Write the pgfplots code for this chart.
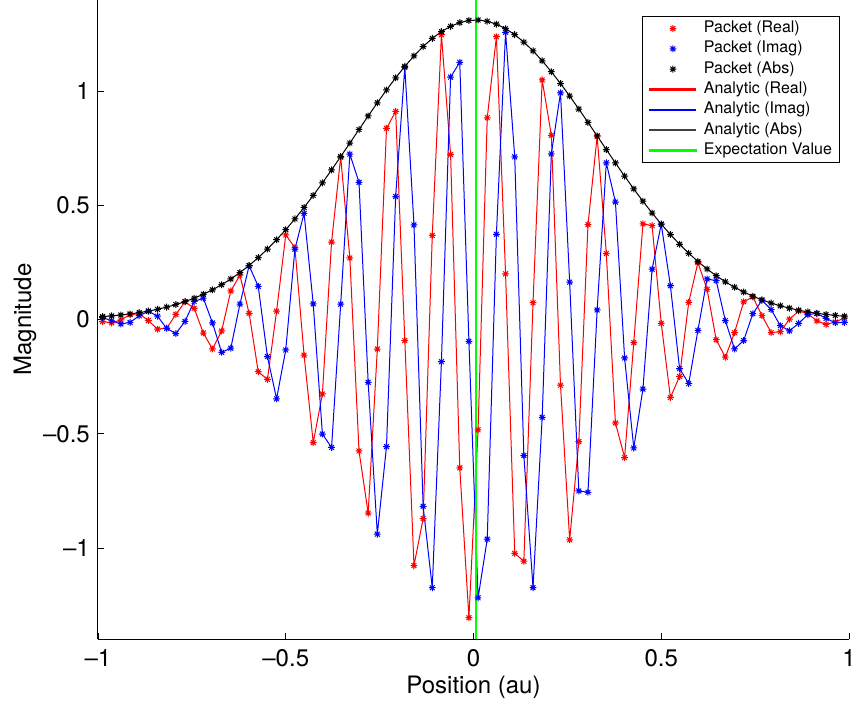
\documentclass[border=0pt]{standalone}
\usepackage{fontspec}
\setmainfont{TeX Gyre Heros}
\usepackage{pgfplots}
\usepackage{pgfplotstable}
\pgfplotsset{compat=1.18}

\pgfdeclareplotmark{mstar}{%
 \pgfpathmoveto{\pgfqpoint{-\pgfplotmarksize}{0pt}}\pgfpathlineto{\pgfqpoint{\pgfplotmarksize}{0pt}}%
 \pgfpathmoveto{\pgfqpoint{0pt}{-\pgfplotmarksize}}\pgfpathlineto{\pgfqpoint{0pt}{\pgfplotmarksize}}%
 \pgfpathmoveto{\pgfqpoint{-.7071\pgfplotmarksize}{-.7071\pgfplotmarksize}}\pgfpathlineto{\pgfqpoint{.7071\pgfplotmarksize}{.7071\pgfplotmarksize}}%
 \pgfpathmoveto{\pgfqpoint{-.7071\pgfplotmarksize}{.7071\pgfplotmarksize}}\pgfpathlineto{\pgfqpoint{.7071\pgfplotmarksize}{-.7071\pgfplotmarksize}}%
 \pgfusepathqstroke}

\pgfplotstableread{
x re im ab
-0.9878 -0.0091 0.0088 0.0126
-0.9634 -0.0148 -0.0056 0.0158
-0.9390 -0.0019 -0.0196 0.0197
-0.9146 0.0209 -0.0127 0.0244
-0.8902 0.0252 0.0164 0.0300
-0.8659 -0.0046 0.0365 0.0368
-0.8415 -0.0423 0.0142 0.0447
-0.8171 -0.0379 -0.0387 0.0542
-0.7927 0.0221 -0.0615 0.0653
-0.7683 0.0777 -0.0082 0.0782
-0.7439 0.0491 0.0791 0.0932
-0.7195 -0.0591 0.0932 0.1103
-0.6951 -0.1290 -0.0149 0.1298
-0.6707 -0.0501 -0.1437 0.1521
-0.6463 0.1252 -0.1253 0.1772
-0.6220 0.1938 0.0674 0.2052
-0.5976 0.0272 0.2347 0.2362
-0.5732 -0.2284 0.1450 0.2706
-0.5488 -0.2619 -0.1623 0.3081
-0.5244 0.0363 -0.3470 0.3490
-0.5000 0.3697 -0.1333 0.3929
-0.4756 0.3146 0.3078 0.4401
-0.4512 -0.1562 0.4646 0.4901
-0.4268 -0.5385 0.0682 0.5427
-0.4024 -0.3258 -0.5010 0.5976
-0.3780 0.3390 -0.5599 0.6545
-0.3537 0.7096 0.0668 0.7128
-0.3293 0.2693 0.7234 0.7718
-0.3049 -0.5752 0.6002 0.8313
-0.2805 -0.8468 -0.2747 0.8903
-0.2561 -0.1291 -0.9392 0.9481
-0.2317 0.8361 -0.5561 1.0041
-0.2073 0.9103 0.5379 1.0573
-0.1829 -0.0923 1.1034 1.1073
-0.1585 -1.0764 0.4136 1.1531
-0.1341 -0.8710 -0.8171 1.1943
-0.1098 0.3678 -1.1736 1.2298
-0.0854 1.2458 -0.1846 1.2594
-0.0610 0.7215 1.0603 1.2825
-0.0366 -0.6489 1.1253 1.2989
-0.0122 -1.3047 -0.0952 1.3082
0.0122 -0.4827 -1.2178 1.3100
0.0366 0.8826 -0.9608 1.3047
0.0610 1.2371 0.3729 1.2921
0.0854 0.1997 1.2566 1.2724
0.1098 -1.0230 0.7118 1.2462
0.1341 -1.0575 -0.5952 1.2135
0.1585 0.0733 -1.1730 1.1753
0.1829 1.0478 -0.4281 1.1319
0.2073 0.8059 0.7249 1.0839
0.2317 -0.2876 0.9915 1.0324
0.2561 -0.9639 0.1635 0.9777
0.2805 -0.5339 -0.7501 0.9207
0.3049 0.4150 -0.7559 0.8623
0.3293 0.8019 0.0417 0.8030
0.3537 0.2885 0.6854 0.7436
0.3780 -0.4526 0.5140 0.6849
0.4024 -0.6041 -0.1684 0.6272
0.4268 -0.1014 -0.5621 0.5713
0.4512 0.4184 -0.3042 0.5174
0.4756 0.4107 0.2200 0.4659
0.5000 -0.0173 0.4169 0.4173
0.5244 -0.3410 0.1478 0.3717
0.5488 -0.2492 -0.2149 0.3291
0.5732 0.0750 -0.2800 0.2898
0.5976 0.2492 -0.0477 0.2538
0.6220 0.1318 0.1775 0.2210
0.6463 -0.0886 0.1697 0.1915
0.6707 -0.1648 -0.0051 0.1649
0.6951 -0.0575 -0.1290 0.1412
0.7195 0.0776 -0.0919 0.1203
0.7439 0.0986 0.0253 0.1018
0.7683 0.0171 0.0841 0.0858
0.7927 -0.0572 0.0435 0.0719
0.8171 -0.0533 -0.0271 0.0598
0.8415 0.0011 -0.0495 0.0495
0.8659 0.0371 -0.0170 0.0408
0.8902 0.0257 0.0213 0.0334
0.9146 -0.0064 0.0265 0.0272
0.9390 -0.0215 0.0046 0.0221
0.9634 -0.0109 -0.0141 0.0178
0.9878 0.0064 -0.0127 0.0142
}\packet

\begin{document}
\begin{tikzpicture}
\useasboundingbox (-98pt,-66.5pt) rectangle (757pt,639.5pt);
\begin{axis}[
  at={(0pt,0pt)}, anchor=south west,
  scale only axis, width=751pt, height=640pt,
  xmin=-1, xmax=1, ymin=-1.4, ymax=1.4,
  axis x line*=bottom, axis y line*=left,
  axis line style={line width=1pt, black},
  tick align=inside, major tick length=6pt,
  tick style={line width=0.8pt, black},
  xtick={-1,-0.5,0,0.5,1},
  xticklabels={\textendash1,\textendash0.5,0,0.5,1},
  ytick={-1,-0.5,0,0.5,1},
  yticklabels={\textendash1,\textendash0.5,0,0.5,1},
  ticklabel style={font=\fontsize{24}{28}\selectfont},
  xticklabel style={anchor=north, inner sep=0pt, yshift=-10pt},
  yticklabel style={anchor=east, inner sep=0pt, xshift=-8pt},
  every axis x label/.style={at={(axis description cs:0.5,-0.085)}, anchor=base, font=\fontsize{24}{28}\selectfont},
  every axis y label/.style={at={(axis description cs:-0.0892,0.5)}, rotate=90, anchor=base, font=\fontsize{24}{28}\selectfont},
  xlabel={Position (au)},
  ylabel={Magnitude},
  legend image code/.code={\draw[mark repeat=2,mark phase=2,#1] plot coordinates {(0pt,0pt)(23pt,0pt)(46pt,0pt)};},
  legend cell align=left,
  legend style={at={(axis description cs:0.9871,0.974)}, anchor=north east,
    draw=black, fill=white, line width=0.8pt,
    font=\fontsize{16}{19}\selectfont,
    inner xsep=7pt, inner ysep=4pt, row sep=4.3pt,
    nodes={inner sep=0pt, text height=12pt, text depth=4pt},
    /tikz/every odd column/.append style={column sep=7pt}},
]
\addplot[only marks, mark=mstar, mark size=3.4pt, red, mark options={draw=red, line width=1pt}] table[x=x,y=re] {\packet};
\addlegendentry{Packet (Real)}
\addplot[only marks, mark=mstar, mark size=3.4pt, blue, mark options={draw=blue, line width=1pt}] table[x=x,y=im] {\packet};
\addlegendentry{Packet (Imag)}
\addplot[only marks, mark=mstar, mark size=3.4pt, black, mark options={draw=black, line width=1pt}] table[x=x,y=ab] {\packet};
\addlegendentry{Packet (Abs)}
\addplot[draw=red, line width=1pt, no marks,
  legend image code/.code={\fill[red] (0pt,-0.65pt) rectangle (46pt,0.65pt);}] table[x=x,y=re] {\packet};
\addlegendentry{Analytic (Real)}
\addplot[draw=blue, line width=1pt, no marks,
  legend image code/.code={\fill[blue] (0pt,-0.65pt) rectangle (46pt,0.65pt);}] table[x=x,y=im] {\packet};
\addlegendentry{Analytic (Imag)}
\addplot[draw=black, line width=1pt, no marks,
  legend image code/.code={\fill[black!75] (0pt,-0.65pt) rectangle (46pt,0.65pt);}] table[x=x,y=ab] {\packet};
\addlegendentry{Analytic (Abs)}
\addplot[draw=green, line width=2pt, no marks,
  legend image code/.code={\fill[green] (0pt,-0.8pt) rectangle (46pt,0.8pt);}] coordinates {(0.006,-1.4) (0.006,1.4)};
\addlegendentry{Expectation Value}
\end{axis}
\end{tikzpicture}
\end{document}
